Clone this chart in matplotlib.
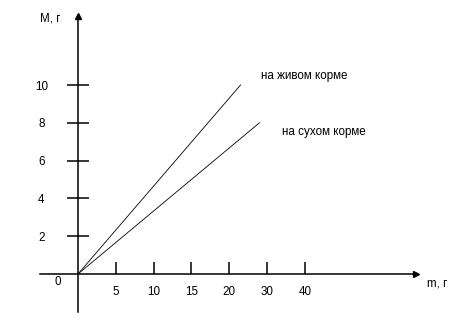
import matplotlib
matplotlib.use("Agg")
import matplotlib.pyplot as plt
import numpy as np

# подписи оси m (неравномерные) и оси M
m_ticks = [5, 10, 15, 20, 30, 40]
M_ticks = [2, 4, 6, 8, 10]

# линии: конечные точки (m, M), обе выходят из нуля
live_m = [0, 23]
live_M = [0, 10]
dry_m = [0, 28]
dry_M = [0, 8]

live_label = "на живом корме"
dry_label = "на сухом корме"

plt.rcParams["font.family"] = ["Liberation Sans", "DejaVu Sans"]
plt.rcParams["font.size"] = 8.4


def pos(m):
    # ось m нарисована с равным шагом между подписями
    return np.interp(m, [0] + m_ticks, range(len(m_ticks) + 1))


fig = plt.figure(figsize=(4.49, 3.22), dpi=100)
ax = fig.add_axes([0, 0, 1, 1])
ax.set_xlim(-78 / 37.8, (449 - 78) / 37.8)
ax.set_ylim(-48 / 18.9, 274 / 18.9)

ax.plot(pos(live_m), live_M, color="black", linewidth=0.6)
ax.plot(pos(dry_m), dry_M, color="black", linewidth=0.6)

# оси
for s in ["top", "right"]:
    ax.spines[s].set_visible(False)
ax.spines["left"].set_position(("data", 0))
ax.spines["bottom"].set_position(("data", 0))
ax.spines["left"].set_bounds(-2.0, 13.6)
ax.spines["bottom"].set_bounds(-1.0, 8.9)
ax.spines["left"].set_linewidth(1.1)
ax.spines["bottom"].set_linewidth(1.1)
ax.plot(8.95, 0, marker=">", color="black", markersize=5, clip_on=False)
ax.plot(0, 13.65, marker="^", color="black", markersize=5, clip_on=False)

ax.set_xticks(pos(m_ticks))
ax.set_xticklabels([str(v) for v in m_ticks])
ax.set_yticks(M_ticks)
ax.set_yticklabels([str(v) for v in M_ticks])
ax.tick_params(axis="x", direction="in", length=8.6, width=1.1, pad=8.5)
ax.tick_params(axis="y", direction="inout", length=15.8, width=1.1, pad=18.5)
for t in ax.get_yticklabels():
    t.set_horizontalalignment("center")

ax.text(-0.53, -0.42, "0", ha="center", va="center")
ax.text(-0.74, 13.52, "M, г", ha="center", va="center")
ax.text(9.22, -0.5, "m, г", ha="left", va="center")
ax.text(4.84, 10.49, live_label, ha="left", va="center")
ax.text(5.39, 7.51, dry_label, ha="left", va="center")

fig.savefig("out.png", dpi=100)
